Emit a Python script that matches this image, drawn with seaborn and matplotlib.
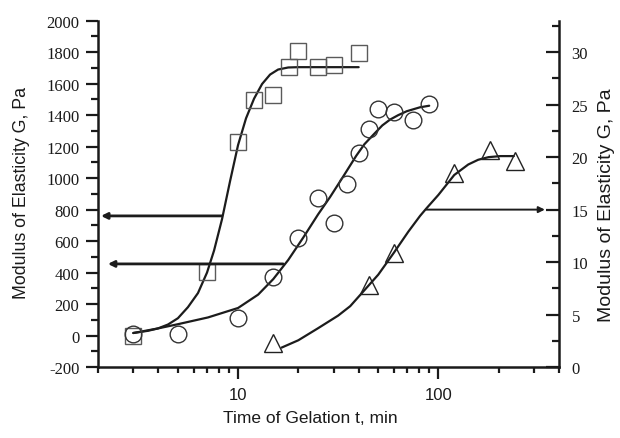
import matplotlib
matplotlib.use('Agg')
import matplotlib.pyplot as plt
import seaborn as sns
from matplotlib.ticker import MultipleLocator, FixedLocator, FixedFormatter, NullFormatter, LogLocator

# ---- data ----
sq_t = [3, 7, 10, 12, 15, 18, 20, 25, 30, 40]
sq_g = [0, 405, 1228, 1498, 1530, 1708, 1809, 1704, 1720, 1795]
ci_t = [3, 5, 10, 15, 20, 25, 30, 35, 40, 45, 50, 60, 75, 90]
ci_g = [10, 12, 110, 370, 617, 875, 715, 960, 1160, 1314, 1439, 1418, 1371, 1471]
tr_t = [15, 45, 60, 120, 180, 240]
tr_g = [2.3, 7.8, 10.9, 18.5, 20.7, 19.6]

# fitted curves, points
sq_fit_t = [3.0, 3.55, 3.98, 4.47, 5.01, 5.62, 6.31, 7.0, 7.59, 8.32, 9.12, 10.0,
            10.96, 12.02, 13.18, 14.45, 15.85, 17.8, 20.0, 40.0]
sq_fit_g = [16, 30, 45, 70, 110, 180, 270, 400, 540, 740, 980, 1210,
            1380, 1505, 1598, 1658, 1690, 1703, 1705, 1705]
ci_fit_t = [3.0, 3.98, 5.01, 7.08, 10.0, 12.6, 15.0, 17.8, 21.2, 25.1, 28.8, 33.1,
            38.9, 42.7, 47.3, 52.5, 57.4, 63.0, 69.5, 80.9, 90.0]
ci_fit_g = [16, 45, 72, 115, 175, 260, 359, 480, 624, 770, 880, 1000,
            1142, 1215, 1275, 1335, 1372, 1400, 1425, 1450, 1460]
tr_fit_t = [16.5, 20.0, 25.1, 31.6, 36.3, 45.0, 50.1, 60.0, 70.8, 81.0, 87.0, 100.0,
            120.0, 141.0, 158.0, 178.0, 204.0, 238.0]
tr_fit_g = [1.85, 2.55, 3.7, 4.9, 5.8, 7.8, 8.8, 10.9, 12.9, 14.4, 15.1, 16.4,
            18.3, 19.3, 19.75, 20.0, 20.1, 20.1]

arrow_axis = ['left', 'left', 'right']
arrow_level = [760, 455, 15.0]
arrow_from = [8.3, 16.8, 87]
arrow_to = [2.07, 2.24, 340]

left_ticks = list(range(-200, 2001, 200))
right_ticks = [0, 5, 10, 15, 20, 25, 30]
x_ticks = [10, 100]
x_tick_labels = ['10', '100']

sns.set_style('ticks')
plt.rcParams['font.family'] = ['Liberation Sans', 'DejaVu Sans']
plt.rcParams['axes.unicode_minus'] = False

fig = plt.figure(figsize=(6.2, 4.39), dpi=100)
ax = fig.add_axes([0.1581, 0.1617, 0.7435, 0.7888])
ax2 = ax.twinx()

line_c = '#1c1c1c'
# curves
sns.lineplot(x=sq_fit_t, y=sq_fit_g, ax=ax, color=line_c, lw=1.6, sort=False, estimator=None)
sns.lineplot(x=ci_fit_t, y=ci_fit_g, ax=ax, color=line_c, lw=1.6, sort=False, estimator=None)
sns.lineplot(x=tr_fit_t, y=tr_fit_g, ax=ax2, color=line_c, lw=1.6, sort=False, estimator=None)
# markers
sns.lineplot(x=sq_t, y=sq_g, ax=ax, sort=False, estimator=None, linestyle='', marker='s',
             markersize=11, markerfacecolor='none', markeredgecolor='#5a5a5a', markeredgewidth=1.0)
sns.lineplot(x=ci_t, y=ci_g, ax=ax, sort=False, estimator=None, linestyle='', marker='o',
             markersize=12, markerfacecolor='none', markeredgecolor='#333333', markeredgewidth=1.0)
sns.lineplot(x=tr_t, y=tr_g, ax=ax2, sort=False, estimator=None, linestyle='', marker='^',
             markersize=13.5, markerfacecolor='none', markeredgecolor='#222222', markeredgewidth=1.0)

# arrows
for side, lvl, a, b in zip(arrow_axis, arrow_level, arrow_from, arrow_to):
    tgt = ax if side == 'left' else ax2
    lw = 2.0 if side == 'left' else 1.4
    tgt.annotate('', xy=(b, lvl), xytext=(a, lvl),
                 arrowprops=dict(arrowstyle='-|>', color=line_c, lw=lw, shrinkA=0, shrinkB=0,
                                 mutation_scale=9))

ax.set_xscale('log')
ax.set_xlim(2, 400)
ax.set_ylim(-200, 2000)
ax2.set_ylim(0, 33)

ax.xaxis.set_major_locator(FixedLocator(x_ticks))
ax.xaxis.set_major_formatter(FixedFormatter(x_tick_labels))
ax.xaxis.set_minor_locator(LogLocator(base=10, subs=range(2, 10)))
ax.xaxis.set_minor_formatter(NullFormatter())
ax.yaxis.set_major_locator(FixedLocator(left_ticks))
ax.yaxis.set_minor_locator(MultipleLocator(100))
ax2.yaxis.set_major_locator(FixedLocator(right_ticks))
ax2.yaxis.set_minor_locator(MultipleLocator(2.5))

for a in (ax, ax2):
    a.spines['top'].set_visible(False)
    for s in a.spines.values():
        s.set_linewidth(1.8)
        s.set_color('#1a1a1a')
ax.spines['right'].set_visible(False)
ax2.spines['left'].set_visible(False)
ax2.spines['bottom'].set_visible(False)

ax.tick_params(axis='y', which='major', direction='out', length=8.5, width=1.6, pad=5, colors='#1a1a1a')
ax.tick_params(axis='y', which='minor', direction='out', length=5, width=1.6, colors='#1a1a1a')
ax.tick_params(axis='x', which='major', direction='out', length=8.5, width=1.6, pad=6, colors='#1a1a1a')
ax.tick_params(axis='x', which='minor', direction='out', length=4, width=1.6, colors='#1a1a1a')
ax2.tick_params(axis='y', which='major', direction='in', length=9.5, width=1.6, pad=9, colors='#1a1a1a')
ax2.tick_params(axis='y', which='minor', direction='in', length=5, width=1.6, colors='#1a1a1a')

for lab in ax.get_yticklabels() + ax2.get_yticklabels():
    lab.set_family('Liberation Serif')
    lab.set_fontsize(12)
    lab.set_color('#1a1a1a')
for lab in ax.get_xticklabels():
    lab.set_fontsize(12)
    lab.set_color('#1a1a1a')

ax.set_xlabel('Time of Gelation t, min', fontsize=12.5, color='#1a1a1a')
ax.set_ylabel('Modulus of Elasticity G, Pa', fontsize=12.8, color='#1a1a1a')
ax2.set_ylabel('Modulus of Elasticity G, Pa', fontsize=14, color='#1a1a1a', rotation=90)
ax.xaxis.set_label_coords(0.46, -0.124)
ax.yaxis.set_label_coords(-0.148, 0.505)
ax2.yaxis.set_label_coords(1.085, 0.47)

fig.savefig('out.png', dpi=100)
